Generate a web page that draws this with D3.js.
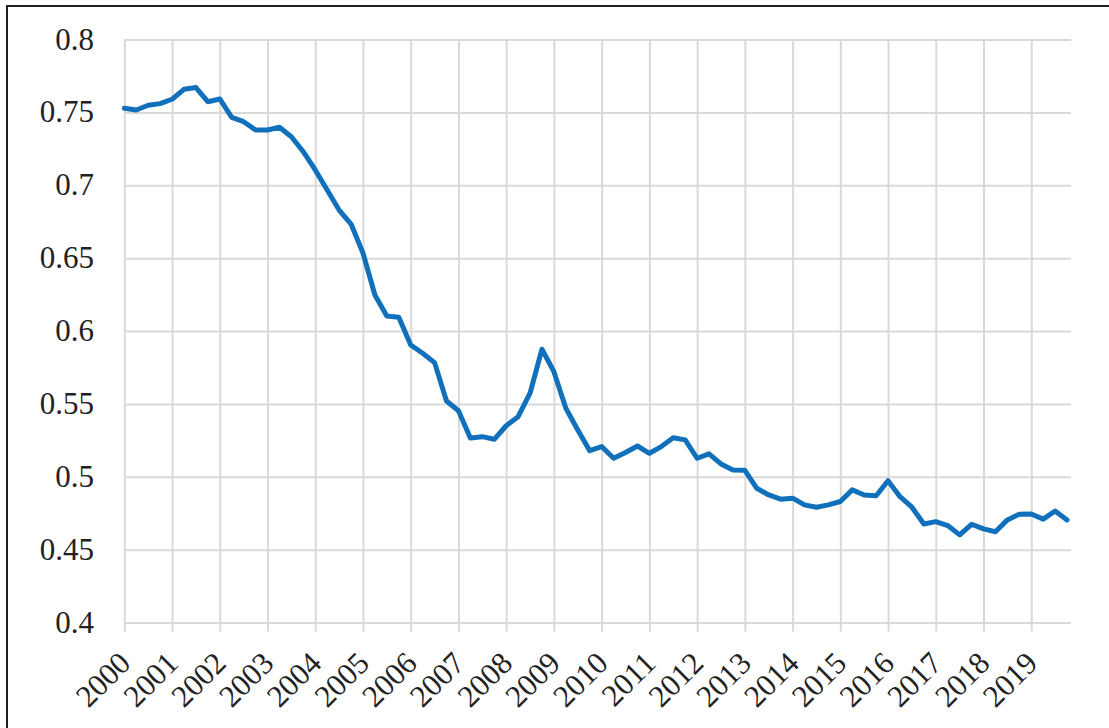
<!DOCTYPE html>
<meta charset="utf-8">
<style>
body { margin: 0; background: #fff; }
.grid line { stroke: #d9d9d9; stroke-width: 2px; }
.grid .domain { display: none; }
</style>
<body>
<svg width="1109" height="728"></svg>
<script src="https://d3js.org/d3.v7.min.js"></script>
<script>
var svg = d3.select("svg"),
    width = +svg.attr("width"),
    height = +svg.attr("height");

// year labels, one per 4 quarters
var years = ["2000","2001","2002","2003","2004","2005","2006","2007","2008","2009",
             "2010","2011","2012","2013","2014","2015","2016","2017","2018","2019"];

// quarterly values, 2000Q1 .. 2019Q4
var values = [
  0.7528, 0.7516, 0.7549, 0.7560, 0.7590, 0.7658, 0.7670, 0.7573,
  0.7592, 0.7466, 0.7436, 0.7379, 0.7379, 0.7398, 0.7333, 0.7230,
  0.7105, 0.6967, 0.6830, 0.6734, 0.6535, 0.6247, 0.6103, 0.6094,
  0.5904, 0.5847, 0.5783, 0.5520, 0.5453, 0.5266, 0.5275, 0.5257,
  0.5350, 0.5412, 0.5573, 0.5875, 0.5721, 0.5470, 0.5321, 0.5179,
  0.5207, 0.5127, 0.5166, 0.5211, 0.5161, 0.5207, 0.5268, 0.5253,
  0.5127, 0.5157, 0.5088, 0.5047, 0.5044, 0.4921, 0.4875, 0.4846,
  0.4853, 0.4807, 0.4791, 0.4807, 0.4830, 0.4910, 0.4875, 0.4870,
  0.4973, 0.4863, 0.4791, 0.4676, 0.4692, 0.4665, 0.4601, 0.4674,
  0.4642, 0.4623, 0.4704, 0.4743, 0.4745, 0.4709, 0.4765, 0.4704
];

var yTicks = [0.4, 0.45, 0.5, 0.55, 0.6, 0.65, 0.7, 0.75, 0.8];

// plot box (note: "top" is reserved on window, so use other names)
var pLeft = 124.3, pRight = 1071, pTop = 39.5, pBottom = 622.5;

var x = d3.scaleLinear().domain([0, 79.33]).range([pLeft, pRight]);
var y = d3.scaleLinear().domain([0.4, 0.8]).range([pBottom, pTop]);

// outer frame
svg.append("rect")
   .attr("x", 7).attr("y", 6)
   .attr("width", width + 10).attr("height", height + 10)
   .style("fill", "none")
   .style("stroke", "#231f20")
   .style("stroke-width", 2);

// horizontal gridlines
svg.append("g")
   .attr("class", "grid")
   .attr("transform", "translate(" + pLeft + ",0)")
   .call(d3.axisLeft(y).tickValues(yTicks).tickSize(-(pRight - pLeft)).tickFormat(""));

// vertical gridlines, running a little past the bottom as tick marks
var xTickVals = d3.range(0, 80, 4);
svg.append("g")
   .attr("class", "grid")
   .attr("transform", "translate(0," + (pBottom + 9) + ")")
   .call(d3.axisBottom(x).tickValues(xTickVals).tickSize(-(pBottom + 9 - pTop)).tickFormat(""));

// y labels
svg.append("g").selectAll("text")
   .data(yTicks)
   .enter().append("text")
   .attr("x", 94)
   .attr("y", function(d) { return y(d) + 10; })
   .attr("text-anchor", "end")
   .attr("font-family", "Liberation Serif")
   .attr("font-size", 31)
   .attr("fill", "#222")
   .text(function(d) { return d3.format("")(+d.toFixed(2)); });

// x labels, rotated
svg.append("g").selectAll("text")
   .data(years)
   .enter().append("text")
   .attr("text-anchor", "end")
   .attr("transform", function(d, i) {
      return "translate(" + (x(i * 4) + 8) + "," + 665 + ") rotate(-45)";
   })
   .attr("font-family", "Liberation Serif")
   .attr("font-size", 31)
   .attr("fill", "#222")
   .text(function(d) { return d; });

// the series
var line = d3.line()
   .x(function(d, i) { return x(i); })
   .y(function(d) { return y(d); });

svg.append("path")
   .datum(values)
   .attr("d", line)
   .style("fill", "none")
   .style("stroke", "#1170bb")
   .style("stroke-width", 5)
   .style("stroke-linejoin", "round")
   .style("stroke-linecap", "round");
</script>
</body>
